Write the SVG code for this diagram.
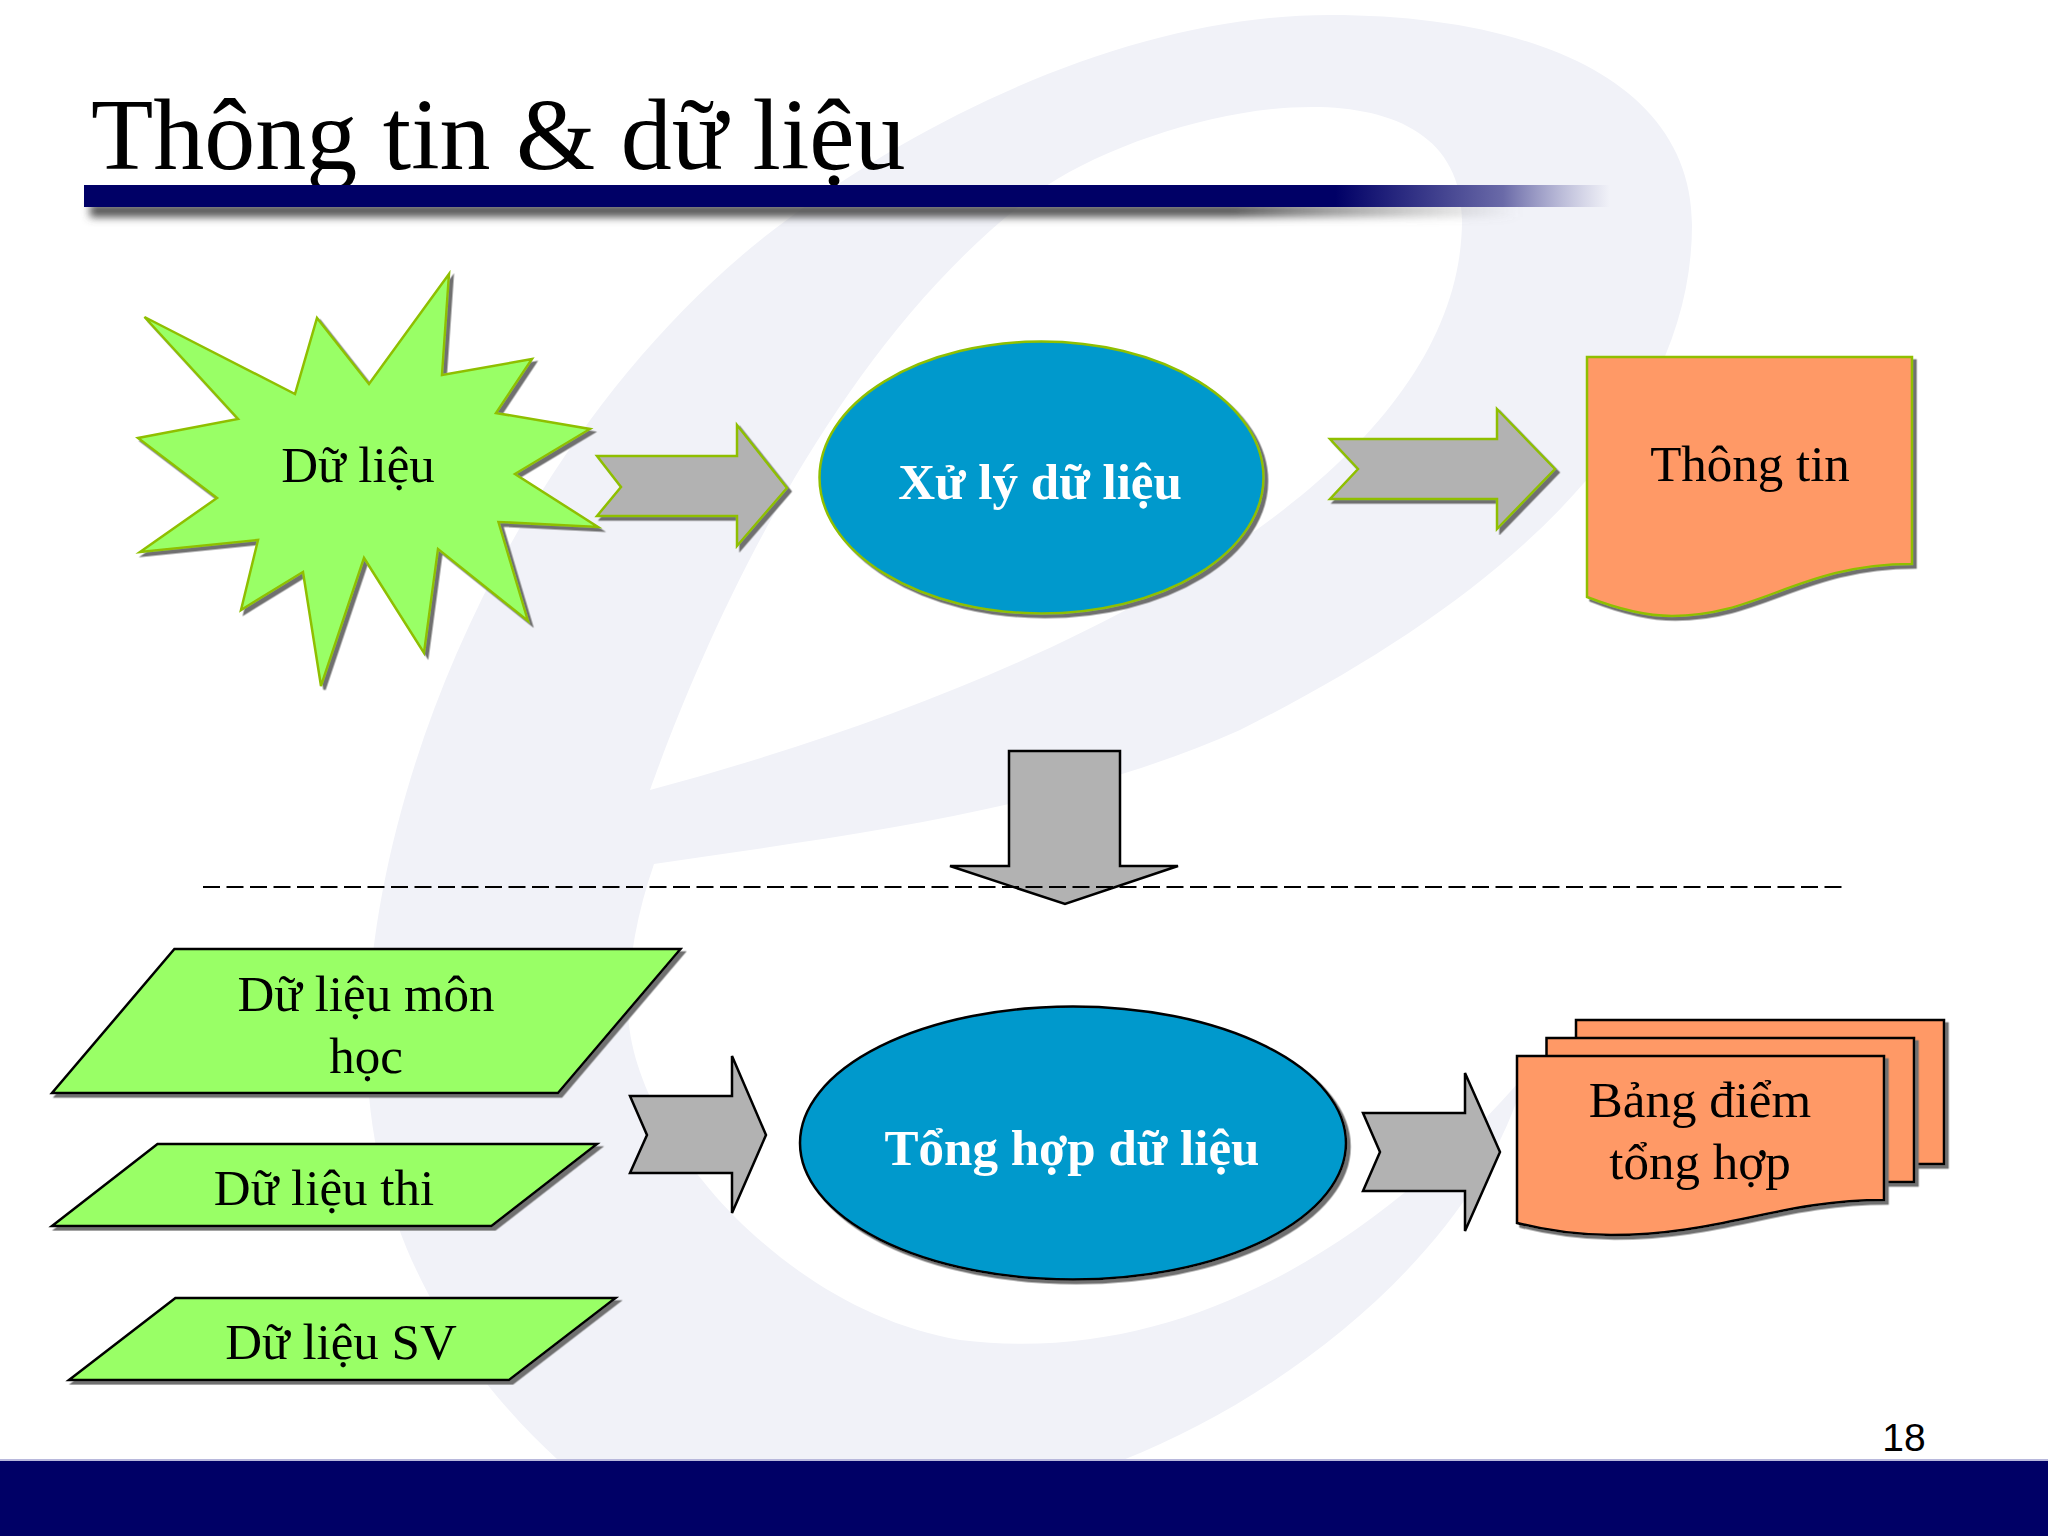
<svg xmlns="http://www.w3.org/2000/svg" width="2048" height="1536" viewBox="0 0 2048 1536">
<style>
.t{font-family:"Liberation Serif","Times New Roman",serif;font-size:51px;fill:#000;text-anchor:middle}
.w{font-family:"Liberation Serif","Times New Roman",serif;font-size:51px;font-weight:bold;fill:#fff;text-anchor:middle}
.g{stroke:#8fbf00;stroke-width:2.5;stroke-linejoin:miter}
.k{stroke:#000;stroke-width:2.5;stroke-linejoin:miter}
.green{fill:#99ff66}.orange{fill:#ff9966}.blue{fill:#0099cc}.grey{fill:#b2b2b2}
</style>
<defs>
<filter id="sh" x="-5%" y="-5%" width="110%" height="110%"><feDropShadow dx="3.5" dy="3.5" stdDeviation="0.6" flood-color="#707070"/></filter>
<filter id="bl" x="-2%" y="-200%" width="104%" height="500%"><feGaussianBlur stdDeviation="4"/></filter>
<linearGradient id="bar" x1="84" x2="1610" y1="0" y2="0" gradientUnits="userSpaceOnUse"><stop offset="0" stop-color="#000066"/><stop offset="0.82" stop-color="#000066"/><stop offset="0.93" stop-color="#6a6aa8"/><stop offset="1" stop-color="#8888bb" stop-opacity="0"/></linearGradient>
<linearGradient id="barsh" x1="90" x2="1520" y1="0" y2="0" gradientUnits="userSpaceOnUse"><stop offset="0" stop-color="#505050"/><stop offset="0.8" stop-color="#505050"/><stop offset="1" stop-color="#808080" stop-opacity="0"/></linearGradient>
</defs>
<rect width="2048" height="1536" fill="#fff"/>
<g id="watermark">
<path fill="#f1f2f8" fill-rule="evenodd" d="M558,1460 C470,1380 367,1240 367,1050 C367,760 540,400 788,219 C950,100 1150,15 1330,15 C1530,15 1692,80 1692,225 C1692,430 1500,600 1240,730 C1060,810 850,835 654,864 C638,910 628,960 628,1010 C630,1130 780,1310 960,1340 C1200,1370 1400,1220 1525,1075 C1480,1240 1300,1390 1123,1460 Z M650,790 C700,650 830,340 1046,186 C1180,100 1462,50 1462,220 C1462,480 1060,680 650,790 Z"/>
</g>
<g id="title">
<text x="91" y="169" font-family="Liberation Serif, Times New Roman, serif" font-size="102" fill="#000">Thông tin &amp; dữ liệu</text>
</g>
<g id="title-bar">
<rect x="90" y="204" width="1430" height="13" fill="url(#barsh)" filter="url(#bl)"/>
<rect x="84" y="185" width="1526" height="22" fill="url(#bar)"/>
</g>
<g id="footer">
<rect x="0" y="1459" width="2048" height="3" fill="#b8b8dc"/>
<rect x="0" y="1461" width="2048" height="75" fill="#000066"/>
<text x="1904" y="1451" font-family="Liberation Sans, Arial, sans-serif" font-size="39" fill="#000" text-anchor="middle">18</text>
</g>
<g id="connectors">
<polygon class="grey g" filter="url(#sh)" points="597,456 737,456 737,425 787,488 737,546 737,516 597,516 621,487"/>
<polygon class="grey g" filter="url(#sh)" points="1330,439 1497,439 1497,409 1555,469 1497,529 1497,499 1330,499 1358,469"/>
<polygon class="grey k" points="1009,751 1120,751 1120,866 1178,866 1065,904 950,866 1009,866"/>
<line x1="203" y1="887" x2="1842" y2="887" stroke="#000" stroke-width="2" stroke-dasharray="17 6.5"/>
<polygon class="grey k" points="630,1096 732,1096 732,1056 766,1135 732,1213 732,1173 630,1173 647,1135"/>
<polygon class="grey k" points="1363,1113 1465,1113 1465,1073 1500,1152 1465,1231 1465,1191 1363,1191 1380,1152"/>
</g>
<g id="node-du-lieu">
<polygon class="green g" filter="url(#sh)" points="144.5,317 295,394 317,318 369,384 449,274 442,375 532,359 496,413 590,429 515,474 598,527 498.5,522 528,621 438,549 424,653 364,558 321,686 303,572 241,610 258,540 140,552 217,498 138,438 238,419"/>
<text class="t" x="358" y="482">Dữ liệu</text>
</g>
<g id="node-xu-ly">
<ellipse class="blue g" filter="url(#sh)" cx="1041.5" cy="477.5" rx="222" ry="136"/>
<text class="w" x="1040" y="499">Xử lý dữ liệu</text>
</g>
<g id="node-thong-tin">
<path class="orange g" filter="url(#sh)" d="M1587,357 H1912 V564 C1800,564 1760,616 1672,616 C1640,616 1610,606 1587,597 Z"/>
<text class="t" x="1750" y="481">Thông tin</text>
</g>
<g id="node-mon-hoc">
<polygon class="green k" filter="url(#sh)" points="174.4,949 680.5,949 558,1093 52,1093"/>
<text class="t" x="366" y="1011">Dữ liệu môn</text>
<text class="t" x="366" y="1073">học</text>
</g>
<g id="node-thi">
<polygon class="green k" filter="url(#sh)" points="157.5,1144 597,1144 491.5,1226 52,1226"/>
<text class="t" x="324" y="1205">Dữ liệu thi</text>
</g>
<g id="node-sv">
<polygon class="green k" filter="url(#sh)" points="175.4,1298 615.5,1298 509,1380 69,1380"/>
<text class="t" x="341" y="1359">Dữ liệu SV</text>
</g>
<g id="node-tong-hop">
<ellipse class="blue k" filter="url(#sh)" cx="1073" cy="1143" rx="273" ry="136.5"/>
<text class="w" x="1072" y="1165">Tổng hợp dữ liệu</text>
</g>
<g id="node-bang-diem">
<rect class="orange k" filter="url(#sh)" x="1576" y="1020" width="368" height="144"/>
<rect class="orange k" filter="url(#sh)" x="1546.5" y="1038" width="367.5" height="144"/>
<path class="orange k" filter="url(#sh)" d="M1517,1056 H1884 V1200 C1780,1200 1720,1235 1611,1235 C1575,1235 1545,1230 1517,1223 Z"/>
<text class="t" x="1700" y="1117">Bảng điểm</text>
<text class="t" x="1700" y="1179">tổng hợp</text>
</g>
</svg>
